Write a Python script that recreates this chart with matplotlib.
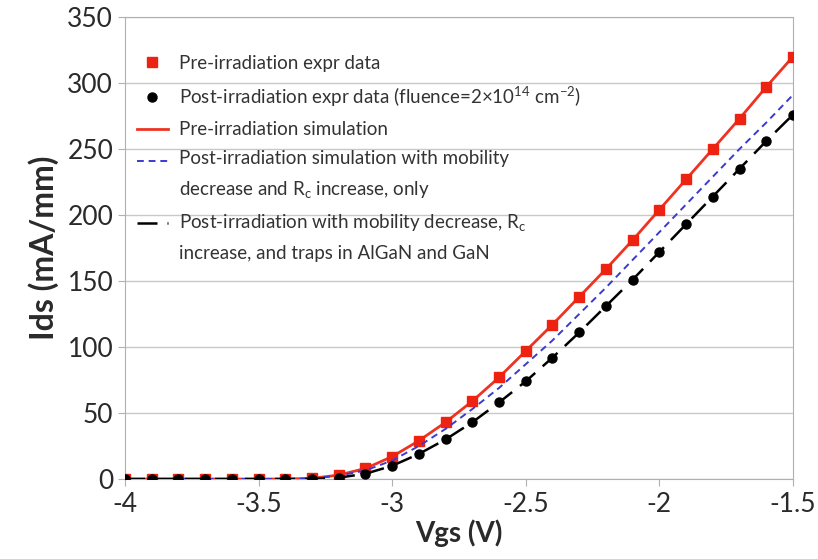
import matplotlib.pyplot as plt
from matplotlib.legend_handler import HandlerLine2D

plt.rcParams['font.family'] = ['Lato', 'DejaVu Sans']

vgs = [-4.0, -3.9, -3.8, -3.7, -3.6, -3.5, -3.4, -3.3, -3.2, -3.1, -3.0, -2.9, -2.8,
       -2.7, -2.6, -2.5, -2.4, -2.3, -2.2, -2.1, -2.0, -1.9, -1.8, -1.7, -1.6, -1.5]

pre_data = [0, 0, 0, 0, 0, 0, 0, 0.5, 3, 8, 17, 29, 43,
            59, 77, 97, 117, 138, 159, 181, 204, 227, 250, 273, 297, 320]
post_data = [0, 0, 0, 0, 0, 0, 0, 0, 1, 4, 10, 19, 30,
             43, 58, 74, 92, 111, 131, 151, 172, 193, 214, 235, 256, 276]

pre_sim = [0, 0, 0, 0, 0, 0, 0, 0.5, 3, 8, 17, 29, 43,
           59, 77, 97, 117, 138, 159, 181, 204, 227, 250, 273, 297, 320]
post_sim_mob = [0, 0, 0, 0, 0, 0, 0, 0.5, 2.5, 6.5, 14, 25, 38,
                53, 69, 87, 105, 125, 145, 166, 187, 208, 229, 250, 270, 291]
post_sim_traps = [0, 0, 0, 0, 0, 0, 0, 0, 1, 4, 10, 19, 30,
                  43, 58, 74, 92, 111, 131, 151, 172, 193, 214, 235, 256, 276]


class FirstLineHandler(HandlerLine2D):
    # put the handle level with the first line of a two-line label
    def create_artists(self, legend, orig_handle, xdescent, ydescent,
                       width, height, fontsize, trans):
        return super().create_artists(legend, orig_handle, xdescent, ydescent - 21,
                                      width, height, fontsize, trans)


fig = plt.figure(figsize=(8.18, 5.59), dpi=100)
ax = fig.add_axes([0.1528, 0.1431, 0.8166, 0.8265])

l_pre_sim, = ax.plot(vgs, pre_sim, color='#ee3322', lw=2, zorder=3,
                     label='Pre-irradiation simulation')
l_pre, = ax.plot(vgs, pre_data, 's', color='#ee2211', ms=6.5, zorder=4,
                 label='Pre-irradiation expr data')
l_mob, = ax.plot(vgs, post_sim_mob, '--', color='#3a3ad0', lw=1.4, dashes=(3.5, 2.5), zorder=5,
                 label='Post-irradiation simulation with mobility\ndecrease and R$_\\mathregular{c}$ increase, only')
l_traps, = ax.plot(vgs, post_sim_traps, color='black', lw=1.8, dashes=(8, 4), zorder=6,
                   label='Post-irradiation with mobility decrease, R$_\\mathregular{c}$\nincrease, and traps in AlGaN and GaN')
l_post, = ax.plot(vgs, post_data, 'o', color='black', ms=6.5, zorder=7,
                  label='Post-irradiation expr data (fluence=2\u00d710$^\\mathregular{14}$ cm$^\\mathregular{-2}$)')

ax.set_xlim(-4, -1.5)
ax.set_ylim(0, 350)
ax.set_xticks([-4, -3.5, -3, -2.5, -2, -1.5])
ax.set_xticklabels(['-4', '-3.5', '-3', '-2.5', '-2', '-1.5'])
ax.set_yticks(range(0, 351, 50))
ax.yaxis.grid(True, color='#c8c8c8', lw=1)
ax.set_axisbelow(True)
for s in ax.spines.values():
    s.set_color('#b0b0b0')
ax.tick_params(colors='#b0b0b0', labelcolor='#2a2a2a', labelsize=19, length=5)
ax.tick_params(axis='x', pad=4)

ax.set_xlabel('Vgs (V)', fontsize=20, fontweight='bold', color='#2a2a2a', labelpad=2)
ax.set_ylabel('Ids (mA/mm)', fontsize=23, fontweight='bold', color='#2a2a2a', labelpad=6)

leg = ax.legend(handles=[l_pre, l_post, l_pre_sim, l_mob, l_traps], loc='upper left',
                bbox_to_anchor=(0.018, 0.918), frameon=False, fontsize=13.5, labelcolor='#333333',
                handlelength=1.65, handletextpad=0.6, labelspacing=0.65,
                borderpad=0, borderaxespad=0,
                handler_map={l_mob: FirstLineHandler(), l_traps: FirstLineHandler()})
for t in leg.get_texts():
    t.set_linespacing(1.75)

fig.savefig('out.png', dpi=100)
